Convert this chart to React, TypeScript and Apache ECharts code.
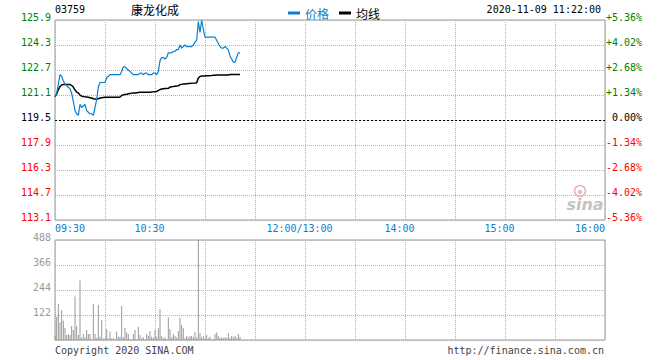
import React, { useEffect, useRef } from "react";
import * as echarts from "echarts";

// ---- data ----
const stockCode = "03759";
const stockName = "康龙化成";
const stampText = "2020-11-09 11:22:00";
const prevClose = 119.5;

// minute index from 09:30 (one value per minute)
const price = [
  121.0, 121.2, 121.8, 122.4, 122.3, 122.0, 121.8, 121.7, 121.6, 121.5,
  121.2, 120.7, 120.1, 119.9, 119.8, 120.5, 120.3, 120.4, 120.5, 120.1,
  120.0, 119.9, 119.9, 119.8, 120.3, 120.8, 121.6, 121.9, 121.9, 121.9,
  121.9, 122.2, 122.3, 122.4, 122.4, 122.4, 122.4, 122.4, 122.4, 122.4,
  122.6, 122.9, 122.9, 122.8, 122.7, 122.6, 122.5, 122.4, 122.4, 122.4,
  122.4, 122.5, 122.5, 122.4, 122.5, 122.5, 122.4, 122.4, 122.4, 122.5,
  122.5, 122.4, 122.6, 123.3, 123.5, 123.5, 123.4, 123.5, 123.8, 123.8,
  123.8, 123.9, 123.9, 124.0, 124.0, 124.3, 124.1, 124.2, 124.3, 124.2,
  124.2, 124.2, 124.2, 124.3, 124.5, 124.6, 125.8, 125.1, 125.9, 125.3,
  124.8, 124.8, 124.8, 124.8, 124.8, 124.8, 124.8, 124.6, 124.4, 124.2,
  124.1, 124.1, 124.2, 124.1, 124.0, 123.6, 123.4, 123.2, 123.2, 123.5,
  123.8, 123.8,
];

const avgPrice = [
  121.0, 121.16, 121.45, 121.64, 121.74, 121.78, 121.78, 121.78, 121.78, 121.77,
  121.71, 121.61, 121.42, 121.29, 121.23, 121.1, 121.02, 121.0, 120.98, 120.97,
  120.95, 120.93, 120.91, 120.86, 120.84, 120.84, 120.86, 120.91, 120.93, 120.94,
  120.95, 120.95, 120.95, 120.95, 120.95, 120.95, 120.95, 120.95, 120.95, 120.97,
  121.07, 121.11, 121.13, 121.15, 121.18, 121.2, 121.22, 121.23, 121.23, 121.25,
  121.26, 121.27, 121.27, 121.27, 121.27, 121.27, 121.27, 121.28, 121.29, 121.3,
  121.31, 121.32, 121.39, 121.45, 121.48, 121.5, 121.51, 121.52, 121.53, 121.61,
  121.63, 121.64, 121.66, 121.68, 121.69, 121.77, 121.78, 121.8, 121.8, 121.82,
  121.84, 121.84, 121.85, 121.86, 121.87, 121.89, 122.19, 122.28, 122.32, 122.32,
  122.32, 122.33, 122.34, 122.34, 122.35, 122.37, 122.37, 122.38, 122.38, 122.38,
  122.38, 122.38, 122.38, 122.38, 122.38, 122.41, 122.42, 122.42, 122.42, 122.42,
  122.42, 122.42,
];

const volume = [
  20, 114, 176, 85, 146, 94, 59, 24, 28, 24,
  68, 49, 212, 68, 24, 290, 11, 29, 13, 49,
  29, 29, 3, 176, 29, 10, 171, 16, 98, 7,
  8, 54, 8, 41, 7, 11, 3, 41, 16, 16,
  166, 13, 60, 36, 29, 3, 3, 29, 49, 3,
  65, 24, 7, 13, 3, 29, 20, 44, 16, 10,
  49, 16, 57, 151, 20, 8, 13, 5, 111, 54,
  13, 29, 20, 11, 44, 109, 73, 57, 8, 20,
  13, 20, 20, 13, 39, 13, 488, 33, 13, 20,
  8, 24, 8, 16, 2, 3, 29, 36, 20, 10,
  13, 10, 13, 10, 33, 8, 20, 13, 20, 10,
  29, 16,
];

const timeLabels = ["09:30", "10:30", "12:00/13:00", "14:00", "15:00", "16:00"];
const timeLabelMinutes = [0, 60, 150, 210, 270, 330];
const volumeTicks = [0, 122, 244, 366, 488];

const MONO = '"DejaVu Sans Mono", "Liberation Mono", monospace';
const CJK = '"Noto Sans CJK SC", "Noto Sans", sans-serif';
const BLUE = "#0a80cc";
const GREEN = "#008000";
const RED = "#ff0000";
const GRID_LINE = { show: true, lineStyle: { color: "#b4b4b4", type: [1, 1] as any, width: 1 } };

export default function App() {
  const ref = useRef<HTMLDivElement>(null);

  useEffect(() => {
    if (!ref.current) return;
    const chart = echarts.init(ref.current, undefined, { renderer: "svg" });

    const toOffset = (p: number) => Math.round((p - prevClose) * 10 * 1000) / 1000;
    const priceData = price.map((p, i) => [i, toOffset(p)]);
    const avgData = avgPrice.map((p, i) => [i, toOffset(p)]);
    const volData = volume.map((v, i) => [i, v]);

    const signColor = (v: number) => (v > 0 ? GREEN : v < 0 ? RED : "#000");

    const xLabelFormatter = (v: number) => {
      const i = timeLabelMinutes.indexOf(Math.round(v));
      if (i < 0) return "";
      const name = timeLabels[i];
      if (i === 0) return `{a|${name}}`;
      if (i === timeLabels.length - 1) return `{b|${name}}`;
      return `{m|${name}}`;
    };

    const xBase = {
      type: "value",
      min: 0,
      max: 330,
      interval: 30,
      axisLine: { show: false },
      axisTick: { show: false },
      splitLine: GRID_LINE,
    };

    const yLabelBase = {
      fontFamily: MONO,
      fontSize: 10,
      verticalAlign: "bottom",
      lineHeight: 6,
    };

    const option: any = {
      animation: false,
      legend: {
        left: 283,
        top: 2,
        icon: "rect",
        itemWidth: 12,
        itemHeight: 3,
        itemGap: 10,
        selectedMode: false,
        textStyle: { fontFamily: CJK, fontSize: 12 },
        data: [
          { name: "价格", textStyle: { color: BLUE } },
          { name: "均线", textStyle: { color: "#000" } },
        ],
      },
      grid: [
        { left: 55, right: 55, top: 20, height: 200, show: true, borderColor: "#999", borderWidth: 1, outerBoundsMode: "none" },
        { left: 55, right: 55, top: 240, height: 100, show: true, borderColor: "#999", borderWidth: 1, outerBoundsMode: "none" },
      ],
      xAxis: [
        {
          ...xBase,
          gridIndex: 0,
          axisLabel: {
            show: true,
            margin: 3,
            alignMinLabel: "left",
            alignMaxLabel: "right",
            fontFamily: MONO,
            fontSize: 10,
            color: BLUE,
            formatter: xLabelFormatter,
            rich: {
              a: { fontFamily: MONO, fontSize: 10, color: BLUE },
              b: { fontFamily: MONO, fontSize: 10, color: BLUE },
              m: { fontFamily: MONO, fontSize: 10, color: BLUE, padding: [0, 11, 0, 0] },
            },
          },
        },
        { ...xBase, gridIndex: 1, axisLabel: { show: false } },
      ],
      yAxis: [
        {
          type: "value",
          gridIndex: 0,
          min: -64,
          max: 64,
          interval: 16,
          position: "left",
          axisLine: { show: false },
          axisTick: { show: false },
          splitLine: GRID_LINE,
          axisLabel: {
            ...yLabelBase,
            margin: 4,
            color: (v: any) => signColor(Number(v)),
            formatter: (v: number) => (prevClose + v / 10).toFixed(1),
          },
        },
        {
          type: "value",
          gridIndex: 0,
          min: -64,
          max: 64,
          interval: 16,
          position: "right",
          axisLine: { show: false },
          axisTick: { show: false },
          splitLine: { show: false },
          axisLabel: {
            ...yLabelBase,
            margin: 37,
            align: "right",
            color: (v: any) => signColor(Number(v)),
            formatter: (v: number) => {
              const pct = (v / 10 / prevClose) * 100;
              if (v === 0) return "0.00%";
              return (pct > 0 ? "+" : "-") + Math.abs(pct).toFixed(2) + "%";
            },
          },
        },
        {
          type: "value",
          gridIndex: 1,
          min: volumeTicks[0],
          max: volumeTicks[volumeTicks.length - 1],
          interval: volumeTicks[1] - volumeTicks[0],
          axisLine: { show: false },
          axisTick: { show: false },
          splitLine: GRID_LINE,
          axisLabel: {
            ...yLabelBase,
            margin: 4,
            color: "#999",
            formatter: (v: number) => (v === 0 ? "" : String(v)),
          },
        },
      ],
      series: [
        {
          name: "价格",
          type: "line",
          xAxisIndex: 0,
          yAxisIndex: 0,
          data: priceData,
          symbol: "none",
          color: BLUE,
          lineStyle: { color: BLUE, width: 1.2 },
          z: 4,
          markLine: {
            silent: true,
            symbol: ["none", "none"],
            label: { show: false },
            lineStyle: { color: "#000", type: [2, 2], width: 1 },
            data: [{ yAxis: 0 }],
          },
        },
        {
          name: "均线",
          type: "line",
          xAxisIndex: 0,
          yAxisIndex: 0,
          data: avgData,
          symbol: "none",
          color: "#000",
          lineStyle: { color: "#000", width: 1.5 },
          z: 3,
        },
        {
          name: "成交量",
          type: "bar",
          xAxisIndex: 1,
          yAxisIndex: 2,
          data: volData,
          barWidth: 1,
          itemStyle: { color: "#999" },
        },
      ],
      graphic: [
        {
          type: "text",
          x: 55,
          y: 9,
          style: { text: stockCode, font: `10px ${MONO}`, fill: "#000", textVerticalAlign: "middle", verticalAlign: "middle" },
        },
        {
          type: "text",
          x: 131,
          y: 9,
          style: { text: stockName, font: `12px ${CJK}`, fill: "#000", textVerticalAlign: "middle", verticalAlign: "middle" },
        },
        {
          type: "text",
          x: 601,
          y: 9,
          style: {
            text: stampText,
            font: `10px ${MONO}`,
            fill: "#000",
            textAlign: "right",
            align: "right",
            textVerticalAlign: "middle",
            verticalAlign: "middle",
          },
        },
        {
          type: "text",
          x: 55,
          y: 350,
          style: { text: "Copyright 2020 SINA.COM", font: `10px ${MONO}`, fill: "#444", textVerticalAlign: "middle", verticalAlign: "middle" },
        },
        {
          type: "text",
          x: 604,
          y: 350,
          style: {
            text: "http://finance.sina.com.cn",
            font: `10px ${MONO}`,
            fill: "#444",
            textAlign: "right",
            align: "right",
            textVerticalAlign: "middle",
            verticalAlign: "middle",
          },
        },
        {
          type: "circle",
          shape: { cx: 580, cy: 191, r: 5.5 },
          style: { fill: "none", stroke: "#f6b0b0", lineWidth: 1.5 },
          z: 1,
        },
        {
          type: "circle",
          shape: { cx: 580, cy: 192, r: 2.2 },
          style: { fill: "#c8c8c8" },
          z: 1,
        },
        {
          type: "text",
          x: 585,
          y: 204,
          style: {
            text: "sina",
            font: `italic bold 16px "DejaVu Sans", sans-serif`,
            fill: "#c4c4c4",
            textAlign: "center",
            align: "center",
            textVerticalAlign: "middle",
            verticalAlign: "middle",
          },
          z: 1,
        },
      ],
    };

    chart.setOption(option);
    return () => chart.dispose();
  }, []);

  return (
    <div
      ref={ref}
      style={{ position: "fixed", left: 0, top: 0, width: 660, height: 360, background: "#fff" }}
    />
  );
}
